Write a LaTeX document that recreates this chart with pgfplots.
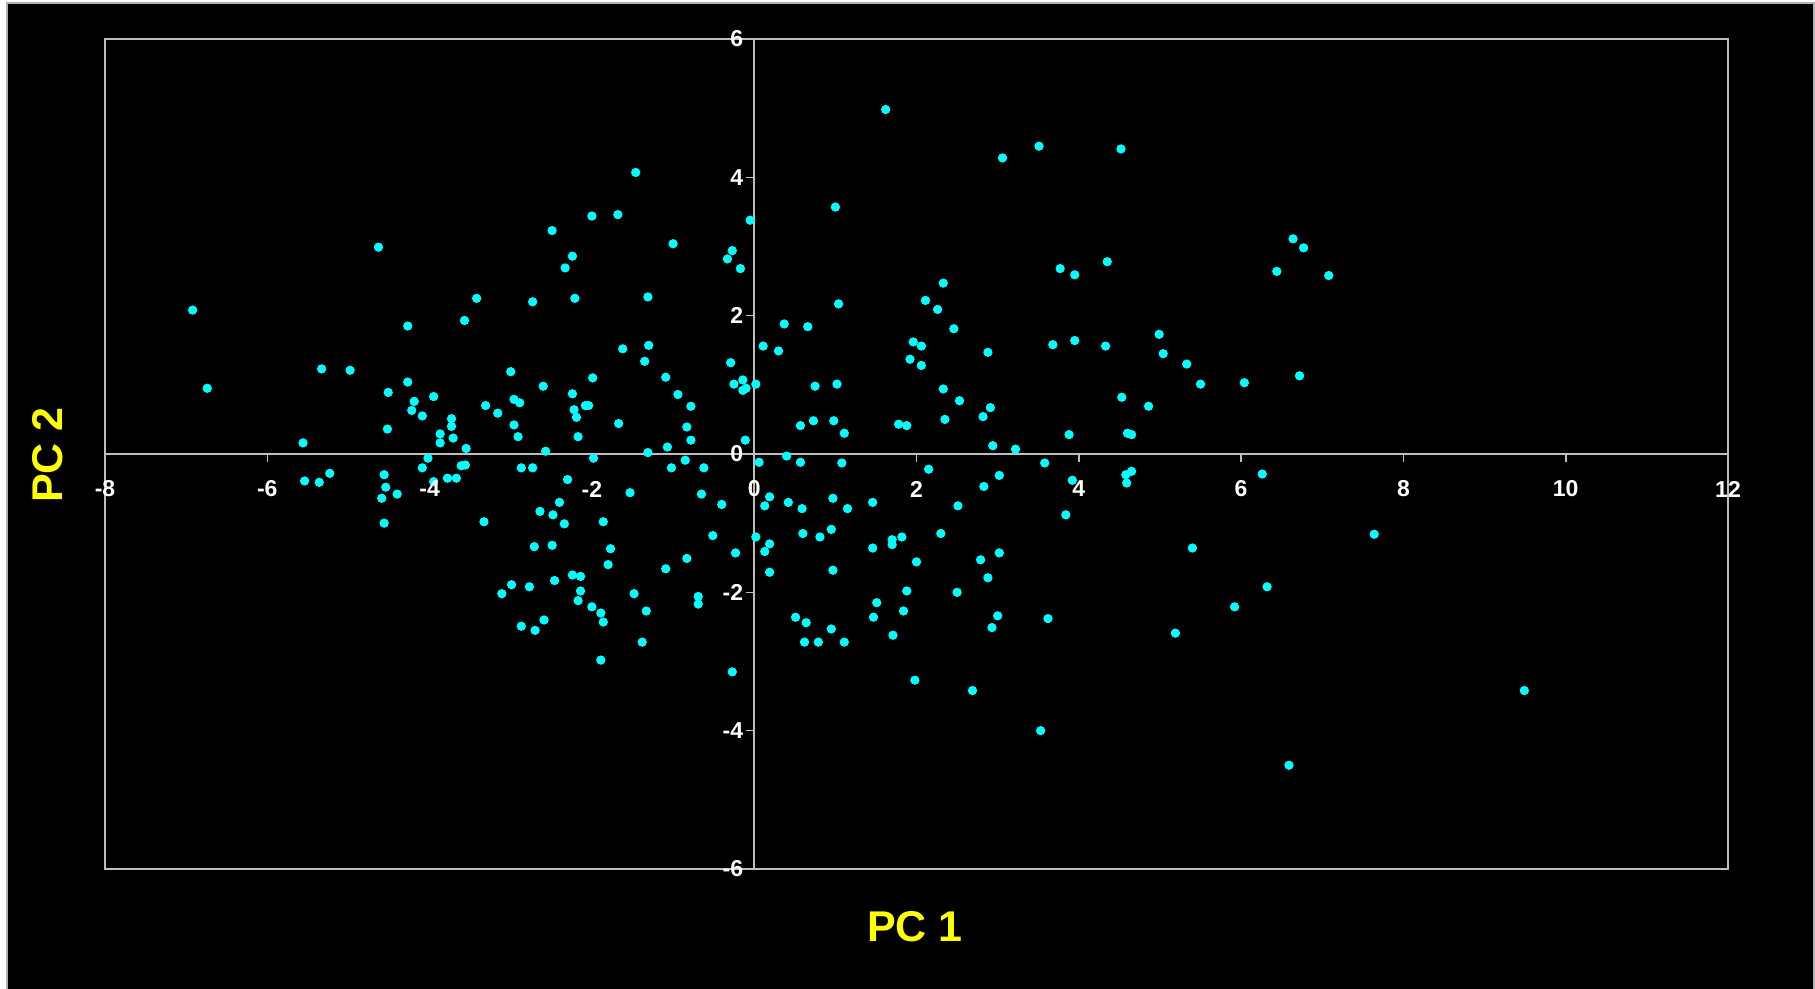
\documentclass[border=0pt]{standalone}
\usepackage{fontspec}
\setmainfont{Liberation Sans}
\usepackage{pgfplots}
\usepackage{pgfplotstable}
\pgfplotsset{compat=1.18}
\definecolor{axgray}{RGB}{190,190,190}
\definecolor{pcyan}{RGB}{0,255,255}
\definecolor{pyellow}{RGB}{255,255,0}

\pgfplotstableread{
x y
-6.92 2.08
-6.74 0.95
-4.63 2.99
-5.33 1.23
-4.98 1.21
-5.56 0.16
-4.27 1.85
-4.27 1.04
-4.51 0.89
-4.19 0.76
-4.22 0.63
-3.95 0.83
-4.09 0.55
-4.52 0.36
-3.87 0.29
-3.87 0.16
-3.73 0.51
-3.73 0.40
-3.71 0.23
-3.55 0.08
-4.02 -0.06
-3.57 1.93
-3.42 2.25
-3.31 0.70
-3.16 0.59
-3.00 1.19
-2.96 0.79
-2.89 0.74
-2.96 0.42
-2.91 0.25
-2.73 2.20
-2.60 0.98
-2.57 0.04
-2.49 3.23
-2.33 2.69
-2.24 2.86
-2.21 2.25
-2.24 0.87
-2.22 0.64
-2.19 0.53
-2.17 0.25
-2.08 0.70
-2.04 0.70
-1.99 1.10
-2.00 3.44
-1.98 -0.06
-1.68 3.46
-1.46 4.07
-1.67 0.44
-1.62 1.52
-1.31 2.27
-1.30 1.57
-1.35 1.34
-1.31 0.02
-5.54 -0.39
-5.36 -0.41
-5.23 -0.28
-4.56 -0.30
-4.54 -0.48
-4.59 -0.64
-4.40 -0.58
-4.56 -1.00
-4.09 -0.20
-3.95 -0.40
-3.78 -0.35
-3.67 -0.35
-3.61 -0.17
-3.56 -0.16
-3.33 -0.98
-2.87 -0.20
-2.73 -0.20
-2.30 -0.37
-1.53 -0.56
-2.40 -0.70
-2.64 -0.83
-2.48 -0.88
-2.34 -1.01
-1.86 -0.98
-2.71 -1.34
-2.49 -1.32
-1.77 -1.37
-1.80 -1.60
-2.24 -1.75
-2.14 -1.77
-2.14 -1.98
-2.17 -2.12
-2.46 -1.83
-2.99 -1.89
-2.77 -1.92
-3.11 -2.02
-2.00 -2.21
-1.89 -2.30
-1.86 -2.43
-1.48 -2.02
-1.33 -2.27
-2.87 -2.49
-2.70 -2.55
-2.59 -2.40
-1.38 -2.72
-1.89 -2.98
-0.05 3.38
-1.00 3.04
-0.33 2.82
-0.27 2.94
-0.17 2.68
-1.09 1.11
-0.94 0.86
-0.78 0.69
-0.83 0.39
-0.78 0.20
-1.07 0.10
-0.29 1.32
-0.25 1.01
-0.14 1.07
-0.14 0.92
-0.10 0.95
-0.11 0.20
0.02 1.01
0.11 1.56
0.30 1.49
0.37 1.88
0.66 1.84
0.75 0.98
0.57 0.41
0.73 0.48
0.98 0.48
1.02 1.01
1.04 2.17
1.00 3.57
1.11 0.30
1.62 4.98
1.78 0.43
1.88 0.41
1.92 1.37
1.96 1.62
2.06 1.56
2.06 1.28
2.11 2.22
2.26 2.09
2.33 2.47
2.46 1.81
2.33 0.94
2.53 0.77
2.35 0.50
2.82 0.54
2.91 0.67
2.88 1.47
2.94 0.12
3.22 0.07
3.06 4.28
3.51 4.45
3.77 2.68
3.95 2.59
3.68 1.58
3.95 1.64
3.88 0.28
4.35 2.78
4.52 4.41
4.33 1.56
4.53 0.82
4.60 0.30
4.65 0.28
4.86 0.69
4.99 1.73
5.04 1.45
5.33 1.30
5.50 1.01
-1.02 -0.20
-0.85 -0.09
-0.62 -0.20
-0.65 -0.58
-0.40 -0.73
-0.51 -1.18
-0.23 -1.43
-0.83 -1.51
-1.09 -1.66
-0.69 -2.06
-0.69 -2.17
-0.27 -3.15
0.06 -0.12
0.40 -0.03
0.57 -0.12
1.08 -0.13
0.19 -0.62
0.13 -0.75
0.42 -0.70
0.59 -0.79
0.97 -0.64
1.15 -0.79
1.46 -0.70
2.15 -0.22
2.51 -0.75
2.83 -0.47
3.02 -0.31
3.58 -0.13
3.84 -0.88
3.92 -0.38
4.58 -0.30
4.65 -0.25
4.59 -0.42
0.02 -1.20
0.19 -1.30
0.13 -1.41
0.19 -1.71
0.60 -1.15
0.81 -1.20
0.95 -1.09
0.97 -1.68
1.46 -1.36
1.70 -1.24
1.70 -1.31
1.82 -1.20
2.30 -1.15
2.00 -1.56
2.79 -1.53
3.02 -1.43
2.88 -1.79
2.50 -2.00
1.88 -1.98
1.51 -2.15
1.47 -2.36
1.84 -2.27
1.71 -2.62
0.51 -2.36
0.64 -2.44
0.95 -2.53
0.62 -2.72
0.79 -2.72
1.11 -2.72
3.00 -2.34
2.93 -2.51
3.62 -2.38
1.98 -3.27
2.69 -3.42
3.53 -4.00
5.19 -2.59
5.40 -1.36
6.64 3.11
6.77 2.98
6.44 2.64
7.08 2.58
6.04 1.03
6.72 1.13
6.26 -0.29
7.64 -1.16
6.32 -1.92
5.92 -2.21
9.49 -3.42
6.59 -4.50
}\pcadata

\begin{document}
\begin{tikzpicture}
\fill[white] (-52.5pt,-60pt) rectangle (855pt,434.5pt);
\path[use as bounding box] (-52.5pt,-60pt) rectangle (855pt,434.5pt);
\fill[black, draw=gray!60, line width=0.6pt] (-49pt,-62pt) rectangle (854.5pt,433pt);
\pgfplotsset{common/.style={at={(0pt,0pt)}, anchor=south west, scale only axis,
  width=811.5pt, height=415pt, xmin=-8, xmax=12, ymin=-6, ymax=6}}
% zero lines and tick marks
\begin{axis}[common, axis lines=middle,
  axis line style={-, draw=axgray, line width=1pt},
  xtick={-8,-6,...,12}, ytick={-6,-4,...,6},
  xticklabels={}, yticklabels={},
  tick align=outside, major tick length=4pt,
  tick style={draw=axgray, line width=0.8pt}]
\end{axis}
% frame and points
\begin{axis}[common, axis line style={draw=axgray, line width=1pt},
  xtick=\empty, ytick=\empty]
\addplot[only marks, mark=*, mark size=2.1pt, mark options={fill=pcyan, draw=pcyan}] table {\pcadata};
\end{axis}
% tick labels
\begin{axis}[common, axis lines=middle,
  axis line style={-, draw=none},
  xtick={-8,-6,...,12}, ytick={-6,-4,...,6},
  xticklabels={-8,-6,-4,-2,0,2,4,6,8,10,12},
  yticklabels={-6,-4,-2,0,2,4,6},
  major tick length=0pt, tick style={draw=none},
  hide obscured x ticks=false, hide obscured y ticks=false,
  ticklabel style={text=white, font=\bfseries\fontsize{11.5}{13}\selectfont},
  xticklabel style={anchor=center, yshift=-17.5pt},
  yticklabel style={anchor=east, xshift=-2pt}]
\end{axis}
\node[text=pyellow, font=\bfseries\fontsize{21.5}{24}\selectfont] at (405pt,-29pt) {PC 1};
\node[text=pyellow, font=\bfseries\fontsize{21.5}{24}\selectfont, rotate=90] at (-28.75pt,207pt) {PC 2};
\end{tikzpicture}
\end{document}
